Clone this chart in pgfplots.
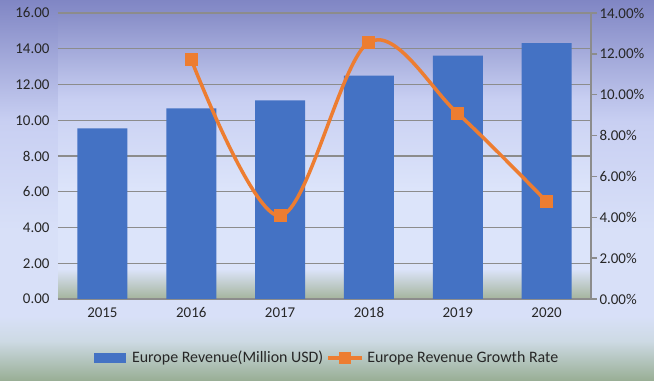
\documentclass[border=0pt]{standalone}
\usepackage{pgfplots}
\pgfplotsset{compat=1.18}
\usepackage{fontspec}
\setmainfont{Carlito}
\definecolor{barblue}{RGB}{68,114,196}
\definecolor{lineorange}{RGB}{237,125,49}
\definecolor{gridgray}{RGB}{140,140,140}
\definecolor{bgtop}{RGB}{128,134,196}
\definecolor{bgmid}{RGB}{200,207,242}
\definecolor{bglight}{RGB}{216,224,248}
\definecolor{bgpale}{RGB}{205,218,228}
\definecolor{bggreen}{RGB}{152,174,148}
\definecolor{patop}{RGB}{136,142,200}
\definecolor{palight}{RGB}{220,228,250}
\definecolor{pagreen}{RGB}{164,180,156}
\pgfdeclareverticalshading{chartbg}{654bp}{color(0bp)=(bggreen); color(40bp)=(bgpale); color(65bp)=(bglight); color(150bp)=(bglight); color(260bp)=(bgmid); color(381bp)=(bgtop)}
\pgfdeclareverticalshading{plotbg}{533bp}{color(0bp)=(pagreen); color(30bp)=(palight); color(110bp)=(palight); color(200bp)=(bgmid); color(286bp)=(patop)}
\begin{document}
\begin{tikzpicture}[x=1bp,y=1bp]
\node[inner sep=0pt, outer sep=0pt, anchor=south west] at (0,0) {\pgfuseshading{chartbg}};
\node[inner sep=0pt, outer sep=0pt, anchor=south west] at (58,82) {\pgfuseshading{plotbg}};
\begin{axis}[
  at={(58bp,82bp)}, anchor=south west,
  scale only axis, width=533bp, height=286bp,
  xmin=-0.5, xmax=5.5, ymin=0, ymax=16,
  xtick={0,...,5}, xticklabels={2015,2016,2017,2018,2019,2020},
  ytick={0,2,...,16},
  yticklabels={0.00,2.00,4.00,6.00,8.00,10.00,12.00,14.00,16.00},
  axis y line*=left, axis x line*=bottom,
  y axis line style={draw=none},
  x axis line style={draw=gridgray, line width=1.5bp},
  major tick length=0pt,
  ymajorgrids, grid style={draw=gridgray, line width=1.4bp},
  tick label style={font=\fontsize{15}{17}\selectfont, text=black!85},
  yticklabel style={xshift=-5bp},
  xticklabel style={yshift=-5bp},
  clip=false,
]
\addplot[ybar, bar width=50bp, fill=barblue, draw=none] coordinates {
 (0,9.54) (1,10.66) (2,11.11) (3,12.50) (4,13.62) (5,14.31)};
\end{axis}
\begin{axis}[
  at={(58bp,82bp)}, anchor=south west,
  scale only axis, width=533bp, height=286bp,
  xmin=-0.5, xmax=5.5, ymin=0, ymax=14,
  xtick=\empty,
  ytick={0,2,...,14},
  yticklabels={0.00\%,2.00\%,4.00\%,6.00\%,8.00\%,10.00\%,12.00\%,14.00\%},
  axis y line*=right, axis x line=none,
  y axis line style={draw=gridgray, line width=1.4bp},
  major tick length=6bp,
  ytick style={draw=gridgray, line width=1.4bp},
  tick align=outside,
  tick label style={font=\fontsize{15}{17}\selectfont, text=black!85},
  yticklabel style={xshift=-1bp},
  clip=false,
  legend style={at={(0.505,-0.206)}, anchor=center, legend columns=2, draw=none, fill=none,
    font=\fontsize{16}{18}\selectfont, text=black!85, /tikz/every even column/.append style={column sep=1bp},
    /tikz/every odd column/.append style={column sep=0bp}},
]
\addlegendimage{area legend, legend image code/.code={\fill[barblue, draw=none] (0bp,-5bp) rectangle (32bp,5bp); \path[draw=none, fill=none] (0bp,-5bp) rectangle (36bp,5bp);}}
\addlegendentry{Europe Revenue(Million USD)}
\addplot[color=lineorange, line width=3.5bp, smooth, tension=0.55, mark=square*, mark size=6bp,
  mark options={fill=lineorange, draw=lineorange, line width=0pt},
  legend image code/.code={\draw[lineorange, line width=3.5bp] (2bp,0bp) -- (36bp,0bp); \fill[lineorange, draw=none] (13bp,-6bp) rectangle (25bp,6bp); \path[draw=none, fill=none] (0bp,-6bp) rectangle (39bp,6bp);}]
 coordinates {(1,11.72) (2,4.07) (3,12.57) (4,9.08) (5,4.77)};
\addlegendentry{Europe Revenue Growth Rate}
\end{axis}
\end{tikzpicture}
\end{document}
